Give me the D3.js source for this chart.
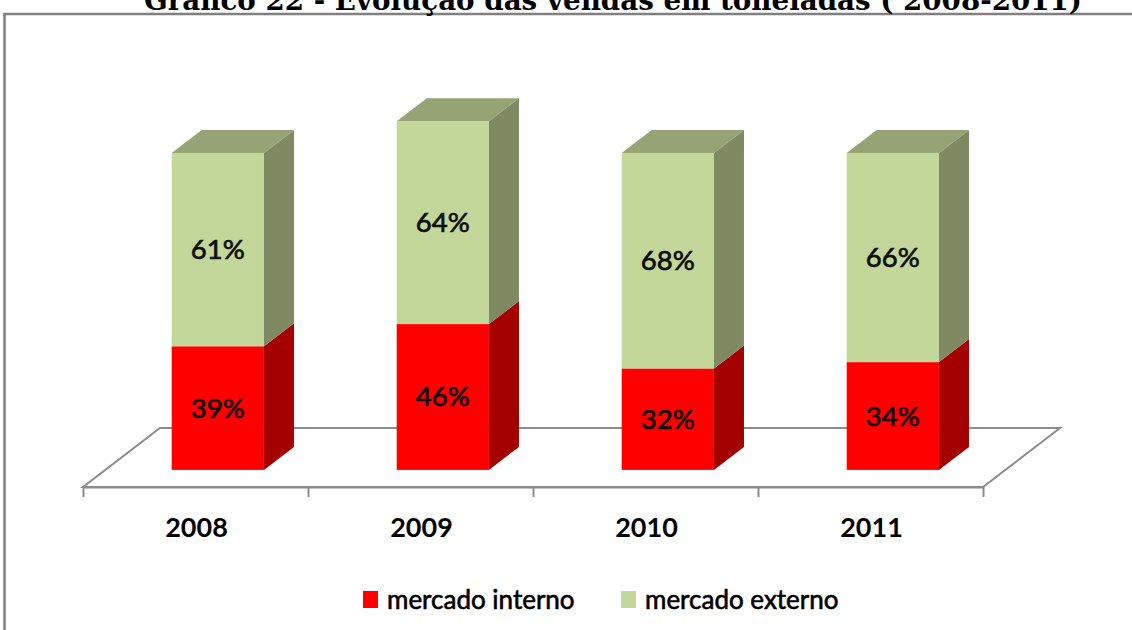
<!DOCTYPE html>
<html>
<head>
<meta charset="utf-8">
<script src="https://cdn.jsdelivr.net/npm/d3@7"></script>
<style>
  body { margin: 0; background: #fff; }
  svg { display: block; }
</style>
</head>
<body>
<div id="chart"></div>
<script>
// data
const years = ["2008", "2009", "2010", "2011"];
const seriesNames = ["mercado interno", "mercado externo"];
const interno = [39, 46, 32, 34];
const externo = [61, 64, 68, 66];

const W = 1132, H = 630;

// colours per series: front, side, top
const colors = [
  {front: "#ff0000", side: "#a50000", top: "#c00000"},
  {front: "#c4d79b", side: "#7f8a63", top: "#95a375"}
];

const svg = d3.select("#chart").append("svg")
  .attr("width", W).attr("height", H);

// frame
svg.append("path")
  .attr("d", "M4.5,632 L4.5,14 L1134,14")
  .attr("fill", "none").attr("stroke", "#808080").attr("stroke-width", 2.5);

// title (clipped at top like the original)
svg.append("text")
  .attr("x", 613).attr("y", 9.5)
  .attr("text-anchor", "middle")
  .attr("font-family", "DejaVu Serif")
  .attr("font-weight", "bold")
  .attr("font-size", 27)
  .attr("textLength", 938)
  .attr("lengthAdjust", "spacingAndGlyphs")
  .text("Gráfico 22  - Evolução das vendas em toneladas ( 2008-2011)");

// scales
const floorY = 487;
const depthVec = [77, -59];
const x = d3.scaleBand().domain(years).range([83, 983])
  .paddingInner(0.59).paddingOuter(0.295);
const y = d3.scaleLinear().domain([0, 100]).range([0, 317]);
const proj = (px, v, z) => [px + depthVec[0] * z, floorY - y(v) + depthVec[1] * z];
const zFront = 0.29, zBack = 0.68;

// floor
const fl = [proj(83, 0, 0), proj(983, 0, 0), proj(983, 0, 1), proj(83, 0, 1)];
svg.append("path")
  .attr("d", d3.line()(fl) + "Z")
  .attr("fill", "#fff").attr("stroke", "#8c8c8c").attr("stroke-width", 2);

// axis ticks at category boundaries
const tickScale = d3.scaleLinear().domain([0, years.length]).range([83, 983]);
const axis = svg.append("g")
  .attr("transform", `translate(0,${floorY})`)
  .call(d3.axisBottom(tickScale).tickValues(d3.range(years.length + 1)).tickFormat("").tickSize(10).tickSizeOuter(0));
axis.select(".domain").attr("stroke", "#8c8c8c").attr("stroke-width", 2);
axis.selectAll(".tick line").attr("stroke", "#8c8c8c").attr("stroke-width", 2);

// category labels
svg.append("g").selectAll("text").data(years).join("text")
  .attr("x", d => x(d) + x.bandwidth() / 2 + 1)
  .attr("y", 537)
  .attr("text-anchor", "middle")
  .attr("font-family", "Lato")
  .attr("font-weight", "bold")
  .attr("font-size", 27)
  .attr("fill", "#000")
  .text(d => d);

// stacked 3d bars
const stack = years.map((yr, i) => {
  const segs = [[0, interno[i]], [interno[i], interno[i] + externo[i]]];
  return {yr, segs, vals: [interno[i], externo[i]]};
});

const gBars = svg.append("g");
stack.forEach(b => {
  const x0 = x(b.yr), x1 = x(b.yr) + x.bandwidth();
  b.segs.forEach((s, k) => {
    const c = colors[k];
    const g = gBars.append("g");
    // side
    const side = [proj(x1, s[0], zFront), proj(x1, s[0], zBack), proj(x1, s[1], zBack), proj(x1, s[1], zFront)];
    g.append("path").attr("d", d3.line()(side) + "Z").attr("fill", c.side);
    // top (only visible on the last segment)
    if (k === b.segs.length - 1) {
      const top = [proj(x0, s[1], zFront), proj(x1, s[1], zFront), proj(x1, s[1], zBack), proj(x0, s[1], zBack)];
      g.append("path").attr("d", d3.line()(top) + "Z").attr("fill", c.top);
    }
    // front
    const p0 = proj(x0, s[1], zFront), p1 = proj(x1, s[0], zFront);
    g.append("rect")
      .attr("x", p0[0]).attr("y", p0[1])
      .attr("width", p1[0] - p0[0]).attr("height", p1[1] - p0[1])
      .attr("fill", c.front);
    // label
    const mid = proj((x0 + x1) / 2, (s[0] + s[1]) / 2, zFront);
    g.append("text")
      .attr("x", mid[0]).attr("y", mid[1] + 9.5)
      .attr("text-anchor", "middle")
      .attr("font-family", "Lato")
      .attr("font-size", 27.5)
      .attr("fill", "#0d0d0d")
      .attr("stroke", "#0d0d0d").attr("stroke-width", 0.7)
      .text(b.vals[k] + "%");
  });
});

// legend
const legX = [363, 621];
const leg = svg.append("g").selectAll("g").data(seriesNames).join("g")
  .attr("transform", (d, i) => `translate(${legX[i]},591)`);
leg.append("rect").attr("width", 15).attr("height", 17)
  .attr("fill", (d, i) => colors[i].front);
leg.append("text")
  .attr("x", 24).attr("y", 18)
  .attr("font-family", "Lato")
  .attr("font-size", 26)
  .attr("fill", "#000")
  .attr("stroke", "#000").attr("stroke-width", 0.6)
  .text(d => d);
</script>
</body>
</html>
